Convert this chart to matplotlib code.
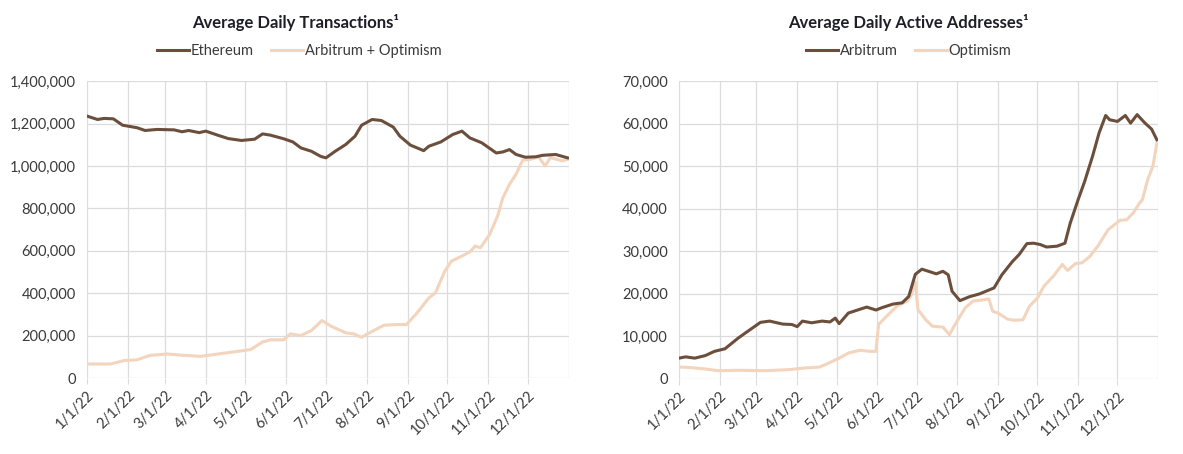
import pandas as pd
import matplotlib
matplotlib.use("Agg")
import matplotlib.pyplot as plt
from matplotlib.ticker import FuncFormatter, MultipleLocator

plt.rcParams["font.family"] = ["Lato", "DejaVu Sans"]

OSCURO = "#6B4F3C"
CLARO = "#F3D4BD"
REJILLA = "#DCDCDC"
TEXTO = "#3A3A3A"

# --- Average Daily Transactions ---
eth_fechas = ["2022-01-01", "2022-01-09", "2022-01-14", "2022-01-21", "2022-01-28",
              "2022-02-08", "2022-02-14", "2022-02-23", "2022-03-08", "2022-03-14",
              "2022-03-19", "2022-03-27", "2022-04-01", "2022-04-10", "2022-04-18",
              "2022-04-28", "2022-05-08", "2022-05-14", "2022-05-20", "2022-05-30",
              "2022-06-06", "2022-06-12", "2022-06-20", "2022-06-27", "2022-07-01",
              "2022-07-08", "2022-07-16", "2022-07-23", "2022-07-28", "2022-08-05",
              "2022-08-12", "2022-08-21", "2022-08-26", "2022-09-03", "2022-09-13",
              "2022-09-17", "2022-09-26", "2022-10-05", "2022-10-12", "2022-10-18",
              "2022-10-27", "2022-11-07", "2022-11-12", "2022-11-17", "2022-11-22",
              "2022-11-29", "2022-12-07", "2022-12-12", "2022-12-22", "2022-12-31"]
eth_tx = [1235000, 1219000, 1224000, 1222000, 1192000,
          1180000, 1167000, 1172000, 1170000, 1161000,
          1167000, 1157000, 1164000, 1145000, 1129000,
          1120000, 1126000, 1151000, 1145000, 1128000,
          1113000, 1085000, 1069000, 1045000, 1038000,
          1069000, 1101000, 1140000, 1192000, 1219000,
          1214000, 1183000, 1140000, 1098000, 1072000,
          1093000, 1113000, 1148000, 1164000, 1132000,
          1109000, 1061000, 1066000, 1077000, 1054000,
          1041000, 1043000, 1050000, 1054000, 1038000]

l2_fechas = ["2022-01-01", "2022-01-19", "2022-01-29", "2022-02-08", "2022-02-18",
             "2022-03-03", "2022-03-15", "2022-03-28", "2022-04-10", "2022-04-22",
             "2022-05-05", "2022-05-14", "2022-05-20", "2022-05-30", "2022-06-04",
             "2022-06-12", "2022-06-20", "2022-06-28", "2022-07-05", "2022-07-16",
             "2022-07-22", "2022-07-28", "2022-08-05", "2022-08-14", "2022-08-23",
             "2022-08-31", "2022-09-08", "2022-09-17", "2022-09-22", "2022-09-29",
             "2022-10-04", "2022-10-12", "2022-10-18", "2022-10-22", "2022-10-26",
             "2022-11-02", "2022-11-08", "2022-11-12", "2022-11-17", "2022-11-22",
             "2022-11-27", "2022-12-03", "2022-12-09", "2022-12-14", "2022-12-18",
             "2022-12-27", "2022-12-31"]
l2_tx = [66000, 66000, 82000, 86000, 107000,
         113000, 107000, 102000, 113000, 123000,
         134000, 170000, 180000, 180000, 208000,
         200000, 224000, 271000, 244000, 213000,
         208000, 192000, 220000, 249000, 252000,
         252000, 307000, 378000, 402000, 504000,
         551000, 575000, 595000, 622000, 614000,
         677000, 764000, 850000, 913000, 961000,
         1027000, 1031000, 1043000, 1000000, 1039000,
         1024000, 1031000]

# --- Average Daily Active Addresses ---
arb_fechas = ["2022-01-01", "2022-01-06", "2022-01-13", "2022-01-21", "2022-01-28",
              "2022-02-05", "2022-02-15", "2022-02-26", "2022-03-04", "2022-03-11",
              "2022-03-21", "2022-03-28", "2022-04-01", "2022-04-05", "2022-04-12",
              "2022-04-20", "2022-04-26", "2022-04-30", "2022-05-03", "2022-05-10",
              "2022-05-18", "2022-05-24", "2022-05-31", "2022-06-05", "2022-06-13",
              "2022-06-20", "2022-06-25", "2022-06-30", "2022-07-05", "2022-07-12",
              "2022-07-16", "2022-07-21", "2022-07-25", "2022-07-28", "2022-08-03",
              "2022-08-10", "2022-08-18", "2022-08-29", "2022-09-04", "2022-09-12",
              "2022-09-17", "2022-09-23", "2022-09-28", "2022-10-03", "2022-10-08",
              "2022-10-16", "2022-10-22", "2022-10-26", "2022-11-01", "2022-11-06",
              "2022-11-12", "2022-11-17", "2022-11-22", "2022-11-25", "2022-12-01",
              "2022-12-07", "2022-12-11", "2022-12-16", "2022-12-22", "2022-12-27",
              "2022-12-31"]
arb_dir = [4900, 5200, 4900, 5500, 6500,
           7100, 9600, 12000, 13300, 13600,
           12900, 12800, 12300, 13600, 13200,
           13600, 13400, 14300, 13000, 15500,
           16300, 16900, 16200, 16800, 17600,
           17900, 19400, 24600, 25800, 25100,
           24700, 25300, 24500, 20600, 18400,
           19300, 20000, 21400, 24500, 27600,
           29200, 31800, 31900, 31600, 31000,
           31200, 31900, 36600, 42100, 46400,
           52300, 57800, 61900, 60900, 60500,
           61900, 60100, 62100, 60100, 58700,
           56200]

op_fechas = ["2022-01-01", "2022-01-08", "2022-01-21", "2022-01-31", "2022-02-15",
             "2022-03-08", "2022-03-26", "2022-04-07", "2022-04-18", "2022-04-25",
             "2022-05-03", "2022-05-10", "2022-05-19", "2022-05-26", "2022-05-31",
             "2022-06-02", "2022-06-08", "2022-06-16", "2022-06-24", "2022-06-27",
             "2022-06-30", "2022-07-02", "2022-07-08", "2022-07-13", "2022-07-21",
             "2022-07-26", "2022-07-31", "2022-08-07", "2022-08-13", "2022-08-21",
             "2022-08-25", "2022-08-28", "2022-09-01", "2022-09-08", "2022-09-13",
             "2022-09-20", "2022-09-25", "2022-10-01", "2022-10-06", "2022-10-13",
             "2022-10-20", "2022-10-24", "2022-10-30", "2022-11-04", "2022-11-10",
             "2022-11-16", "2022-11-24", "2022-12-03", "2022-12-08", "2022-12-13",
             "2022-12-18", "2022-12-20", "2022-12-24", "2022-12-28", "2022-12-31"]
op_dir = [2800, 2750, 2350, 1950, 2050,
          1950, 2200, 2600, 2800, 3750,
          4900, 6100, 6750, 6500, 6500,
          12800, 14700, 17100, 18300, 19800,
          22800, 16300, 13900, 12400, 12200,
          10400, 13200, 16700, 18300, 18600,
          18800, 15900, 15500, 14100, 13800,
          13900, 17100, 19000, 21800, 24100,
          26900, 25500, 27100, 27300, 28800,
          31200, 35100, 37300, 37400, 39000,
          41400, 42100, 46800, 50000, 55400]


def preparar_eje(ax, ymax, paso):
    ax.set_xlim(pd.Timestamp("2022-01-01"), pd.Timestamp("2023-01-01"))
    ax.set_ylim(0, ymax)
    ax.yaxis.set_major_locator(MultipleLocator(paso))
    ax.yaxis.set_major_formatter(FuncFormatter(lambda v, p: f"{int(v):,}"))
    meses = pd.date_range("2022-01-01", "2023-01-01", freq="MS")
    ax.set_xticks(meses[:-1])
    ax.set_xticklabels([f"{d.month}/1/22" for d in meses[:-1]], rotation=45,
                       ha="right", rotation_mode="anchor")
    for m in meses:
        ax.axvline(m, color=REJILLA, lw=0.9, zorder=0)
    ax.grid(axis="y", color=REJILLA, lw=0.9, zorder=0)
    for s in ax.spines.values():
        s.set_visible(False)
    ax.tick_params(axis="y", length=0, labelsize=10.5, labelcolor=TEXTO, pad=8)
    ax.tick_params(axis="x", length=4, color=REJILLA, labelsize=10.5,
                   labelcolor=TEXTO, pad=3)


fig = plt.figure(figsize=(11.83, 4.54), dpi=100)
ax1 = fig.add_axes([0.0735, 0.1674, 0.4074, 0.654])
ax2 = fig.add_axes([0.574, 0.1652, 0.405, 0.6564])

preparar_eje(ax1, 1400000, 200000)
ax1.plot(pd.to_datetime(eth_fechas), eth_tx, color=OSCURO, lw=2.2,
         label="Ethereum", zorder=3)
ax1.plot(pd.to_datetime(l2_fechas), l2_tx, color=CLARO, lw=2.2,
         label="Arbitrum + Optimism", zorder=2)

preparar_eje(ax2, 70000, 10000)
ax2.plot(pd.to_datetime(arb_fechas), arb_dir, color=OSCURO, lw=2.2,
         label="Arbitrum", zorder=3)
ax2.plot(pd.to_datetime(op_fechas), op_dir, color=CLARO, lw=2.2,
         label="Optimism", zorder=2)

fig.text(0.25, 0.95, "Average Daily Transactions¹", ha="center",
         va="center", fontsize=12, fontweight="bold", color="#1E1E28")
fig.text(0.768, 0.95, "Average Daily Active Addresses¹", ha="center",
         va="center", fontsize=12, fontweight="bold", color="#1E1E28")

for ax, x in ((ax1, 0.253), (ax2, 0.768)):
    fig.legend(*ax.get_legend_handles_labels(), loc="center",
               bbox_to_anchor=(x, 0.887), ncol=2, frameon=False,
               fontsize=10.5, handlelength=2.2, handletextpad=0.1,
               columnspacing=1.2, labelcolor=TEXTO)

fig.savefig("out.png", dpi=100)
